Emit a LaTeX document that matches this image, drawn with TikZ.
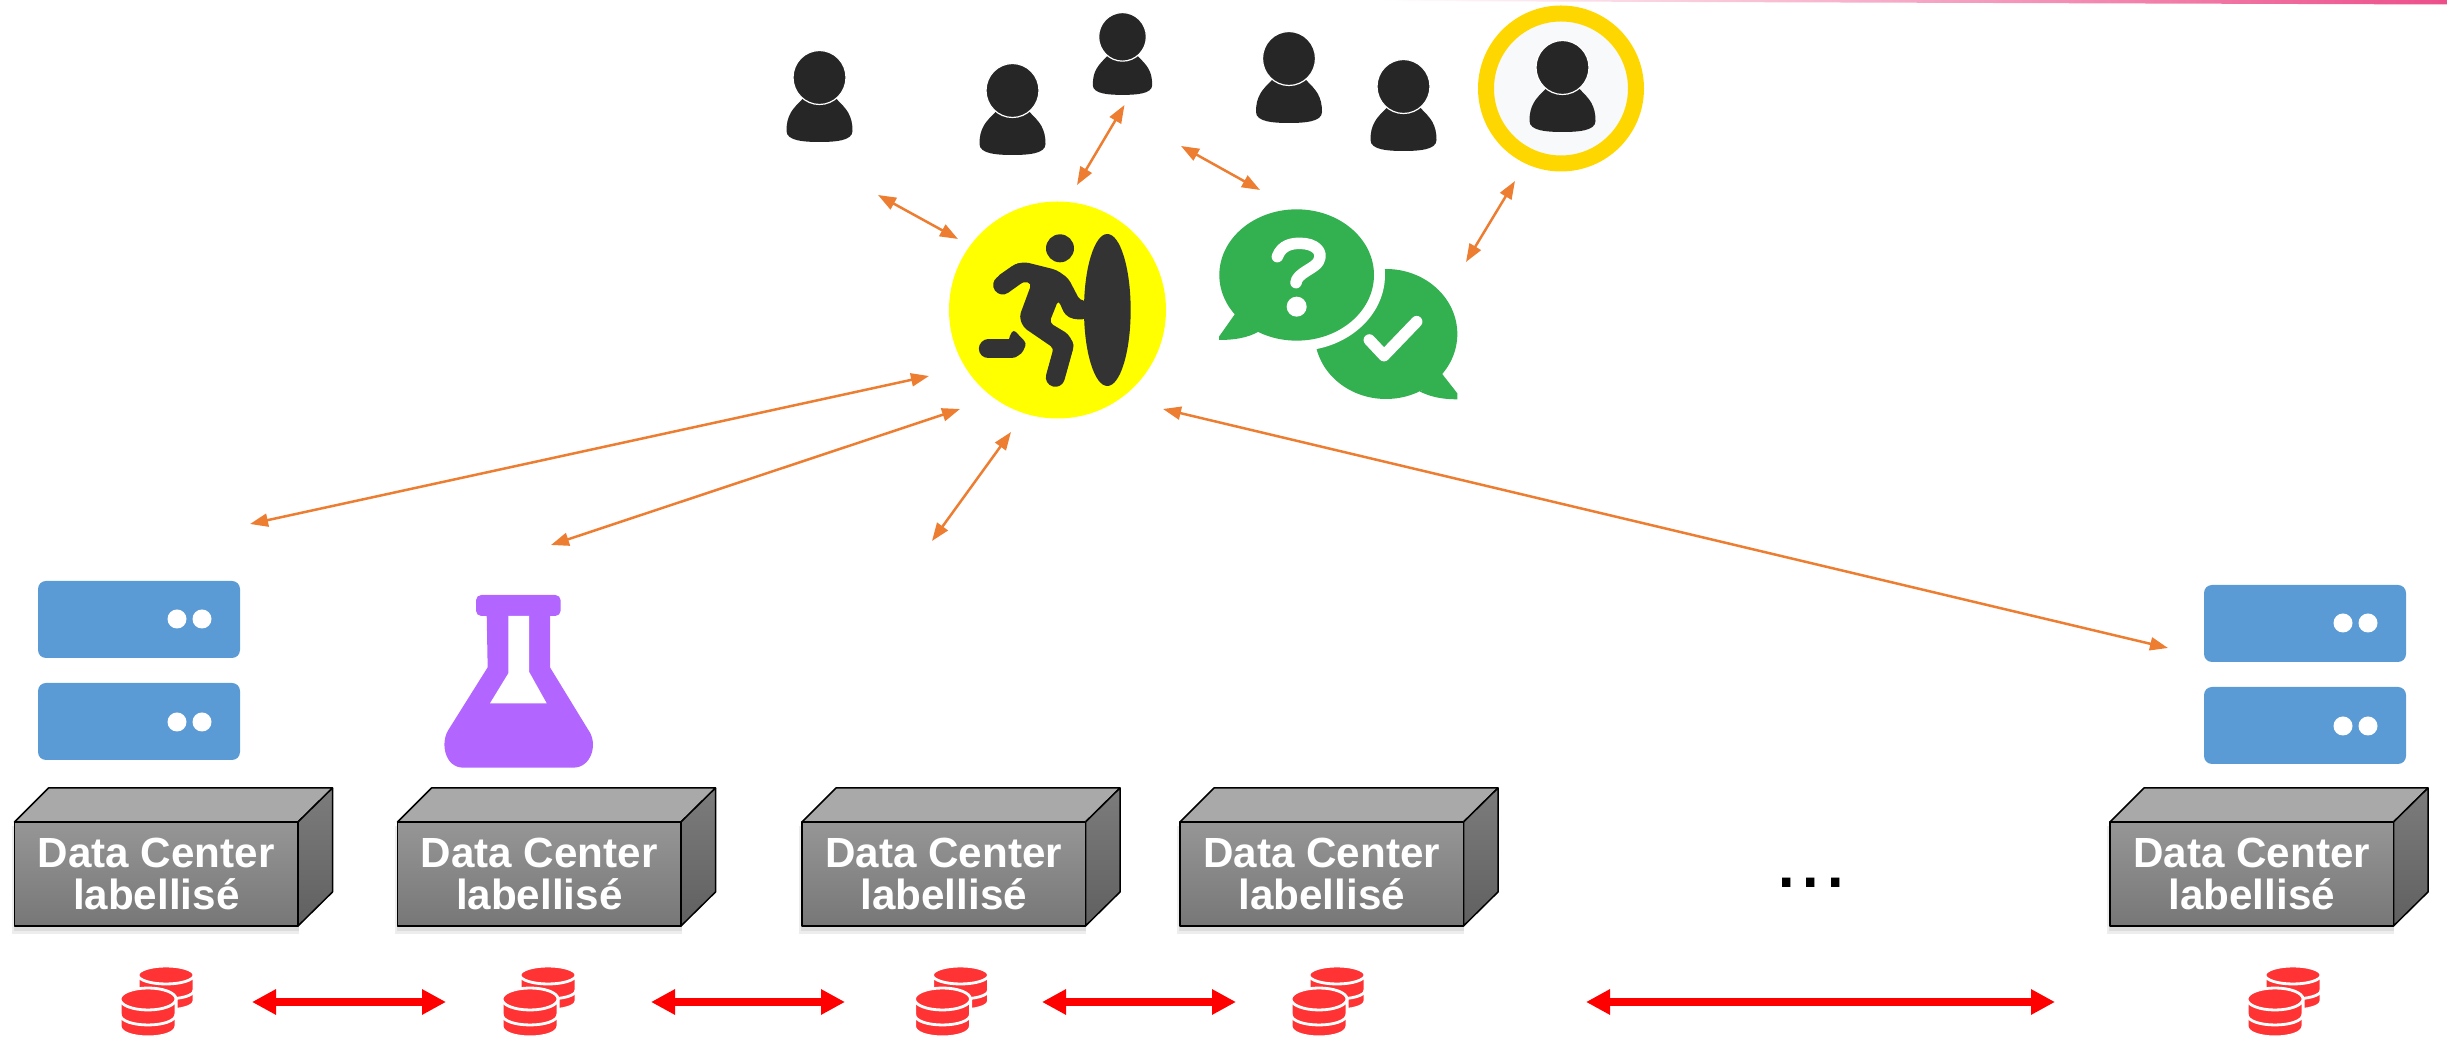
\documentclass[tikz,border=0pt]{standalone}
\usepackage{fontspec}
\setmainfont{Liberation Sans}
\usepackage{tikz}
\usetikzlibrary{calc}
\usetikzlibrary{arrows.meta,positioning}

\definecolor{arroworange}{HTML}{ED7D31}
\definecolor{serverblue}{HTML}{5B9BD5}
\definecolor{flaskpurple}{HTML}{B266FF}
\definecolor{chatgreen}{HTML}{33B050}
\definecolor{dbred}{HTML}{FF3333}
\definecolor{ringgold}{HTML}{FFD700}
\definecolor{ringinner}{HTML}{F8F9FB}
\definecolor{iconblack}{HTML}{262626}
\definecolor{runnergray}{HTML}{333333}
\definecolor{runneryellow}{HTML}{FFFF00}
\definecolor{barpink}{HTML}{EC4F8A}
\definecolor{puregreytop}{HTML}{A9A9A9}
\definecolor{puregreyfronta}{HTML}{969696}
\definecolor{puregreyfrontb}{HTML}{777777}
\definecolor{puregreysidea}{HTML}{7C7C7C}
\definecolor{puregreysideb}{HTML}{606060}
\definecolor{linkred}{HTML}{FF0000}

\tikzset{
	orangearrow/.style={draw=arroworange, line width=0.25mm, {Triangle[length=1.8mm,width=1.3mm,fill=arroworange]}-{Triangle[length=1.8mm,width=1.3mm,fill=arroworange]}},
	redarrow/.style={draw=linkred, line width=0.75mm, {Triangle[length=2.4mm,width=2.4mm,fill=linkred]}-{Triangle[length=2.4mm,width=2.4mm,fill=linkred]}},
	dclabel/.style={text=white, align=center, inner sep=0pt, font=\fontsize{12}{12.2}\selectfont\bfseries},
	dcedge/.style={draw=black, line width=0.15mm, line join=round},
}

% user icon: centre x, top y, size
\newcommand{\usericon}[3]{
	\begin{scope}[shift={(#1,#2)}, scale=#3]
		\fill[iconblack] (-17,48) .. controls (-27,58) and (-33,64) .. (-33,80) .. controls (-33,90) and (-15,91) .. (0,91) .. controls (15,91) and (33,90) .. (33,80) .. controls (33,64) and (27,58) .. (17,48) -- cycle;
		\filldraw[draw=white, fill=iconblack, line width=0.12mm] (0,26.5) ellipse (26.5 and 27);
	\end{scope}
}
% one stack of discs: centre x, top y, bottom y, disc height
\newcommand{\dbstack}[4]{
	\filldraw[draw=white, fill=dbred, line width=0.3mm] ({#1-28},{#2+#4}) -- ({#1-28},{#3-#4}) .. controls ({#1-28},{#3+#4/3}) and ({#1+28},{#3+#4/3}) .. ({#1+28},{#3-#4}) -- ({#1+28},{#2+#4}) -- cycle;
	\draw[white, line width=0.28mm] ({#1-28},{#2+#4+15}) .. controls ({#1-28},{#2+#4+15+#4*1.33}) and ({#1+28},{#2+#4+15+#4*1.33}) .. ({#1+28},{#2+#4+15});
	\filldraw[draw=white, fill=dbred, line width=0.28mm] (#1,{#2+#4}) ellipse (28 and #4);
}
\newcommand{\dbicon}[1]{
	\dbstack{#1+46}{966}{1010}{9}
	\dbstack{#1+28}{988}{1037}{11}
}
% labelled box: node name, left x
\newcommand{\datacenter}[2]{
	\fill[black, opacity=0.07] ({#2-3},826) rectangle ({#2+284},934);
	\fill[black, opacity=0.07] ({#2-1},826) rectangle ({#2+284},931);
	\draw[dcedge, fill=puregreytop] (#2,822) -- ({#2+34},788) -- ({#2+318},788) -- ({#2+283.5},822) -- cycle;
	\draw[dcedge, top color=puregreysidea, bottom color=puregreysideb] ({#2+283.5},822) -- ({#2+318},788) -- ({#2+318},892) -- ({#2+283.5},926) -- cycle;
	\draw[dcedge, top color=puregreyfronta, bottom color=puregreyfrontb] (#2,822) rectangle ({#2+283.5},926);
	\node[dclabel] (#1) at ({#2+141.75},874) {Data Center\\labellisé};
}
% two stacked servers: left x, top y
\newcommand{\servers}[2]{
	\fill[serverblue, rounded corners=0.8mm] (#1,#2) rectangle ({#1+202},{#2+77});
	\fill[serverblue, rounded corners=0.8mm] (#1,{#2+102}) rectangle ({#1+202},{#2+179});
	\fill[white] ({#1+139},{#2+38}) circle (9.5);
	\fill[white] ({#1+164},{#2+38}) circle (9.5);
	\fill[white] ({#1+139},{#2+141}) circle (9.5);
	\fill[white] ({#1+164},{#2+141}) circle (9.5);
}

\begin{document}
\begin{tikzpicture}[x=0.1mm, y=-0.1mm]
\useasboundingbox (0,0) rectangle (2447,1039);

%top bar
\shade[left color=white, middle color=barpink!85, right color=barpink] (1380,0) -- (2447,0) -- (2447,4.5) -- (1380,1) -- cycle;

%users
\usericon{819.5}{51}{1}
\usericon{1012.5}{64}{1}
\usericon{1122.5}{13}{0.9}
\usericon{1289}{32}{1}
\usericon{1403.5}{60}{1}
\filldraw[draw=ringgold, fill=ringinner, line width=1.6mm] (1561,88.5) circle (75);
\usericon{1562.5}{41}{1}

%runner
\fill[runneryellow] (1057.5,310) circle (108.5);
\begin{scope}[shift={(940,190)}, scale=1/3]
	\fill[runnergray] (360,175) circle (42);
	\fill[runnergray] (502,360) ellipse (70 and 228);
	\fill[runnergray, rounded corners=1.2pt] (168,262) -- (225,222) -- (255,216) -- (350,240) -- (385,265) -- (420,332) -- (440,332) -- (440,388) -- (400,388) -- (375,375) -- (355,330) -- (328,398) -- (385,432) -- (402,465) -- (375,560) -- (318,560) -- (342,475) -- (250,412) -- (238,380) -- (275,280) -- (250,274) -- (195,312) -- cycle;
	\draw[runnergray, line width=1.9mm, line cap=round] (188,285) -- (240,248);
	\draw[runnergray, line width=1.9mm, line cap=round] (346,562) -- (372,468);
	\draw[runnergray, line width=1.9mm, line cap=round] (145,477) -- (215,477);
	\fill[runnergray, rounded corners=1pt] (205,448) -- (220,418) -- (260,460) -- (245,492) -- (215,505) -- cycle;
\end{scope}

%question and answer bubbles
\begin{scope}[shift={(1200,190)}, scale=1/3]
	\fill[chatgreen] (558,432) ellipse (214 and 195);
	\fill[chatgreen] (725,550) -- (772,610) -- (772,628) .. controls (730,628) and (695,622) .. (660,605) -- cycle;
	\fill[white] (290,255) ellipse (265 and 228);
	\fill[chatgreen] (290,255) ellipse (232 and 197);
	\fill[chatgreen] (105,372) -- (57,440) -- (57,450) .. controls (100,450) and (140,445) .. (178,424) -- cycle;
	\draw[white, line width=1.15mm, line cap=round, line join=round] (232,200) .. controls (245,165) and (275,160) .. (300,160) .. controls (345,160) and (372,185) .. (355,215) .. controls (345,235) and (290,250) .. (288,278);
	\fill[white] (290,350) circle (30);
	\draw[white, line width=1.15mm, line cap=round, line join=round] (508,450) -- (552,497) -- (650,395);
\end{scope}

%flask
\begin{scope}[shift={(420,580)}, scale=1/3]
	\fill[flaskpurple, rounded corners=1.5pt] (168,45) rectangle (422,108);
	\fill[flaskpurple] (200,100) -- (203,262) -- (85,450) .. controls (60,490) and (75,563) .. (130,563) -- (460,563) .. controls (515,563) and (535,490) .. (505,450) -- (390,262) -- (390,100) -- cycle;
	\fill[white] (265,108) -- (327,108) -- (327,275) -- (380,370) -- (210,370) -- (265,280) -- cycle;
\end{scope}

%servers
\servers{38}{581}
\servers{2204}{585}

%labelled boxes
\datacenter{dcone}{14.5}
\datacenter{dctwo}{397.5}
\datacenter{dcthree}{802}
\datacenter{dcfour}{1180}
\datacenter{dcfive}{2110}
\node[font=\fontsize{25}{25}\selectfont, inner sep=0pt, anchor=base] (dcdots) at (1811,888) {...};

%discs
\dbicon{120}
\dbicon{502}
\dbicon{914.5}
\dbicon{1291}
\dbicon{2247}

%arrow ends
\coordinate (userone) at (878,195);
\coordinate (runnerone) at (958,239);
\coordinate (usertwo) at (1124.5,105);
\coordinate (runnertwo) at (1077,185);
\coordinate (userthree) at (1181,146);
\coordinate (chatone) at (1260,190);
\coordinate (userfour) at (1515,181);
\coordinate (chattwo) at (1466,262);
\coordinate (runnerthree) at (929,376);
\coordinate (serverone) at (250,524);
\coordinate (runnerfour) at (960,409);
\coordinate (flaskone) at (551,545);
\coordinate (runnerfive) at (1011,432);
\coordinate (freeone) at (932,541);
\coordinate (runnersix) at (1163,409);
\coordinate (servertwo) at (2168,648);

\draw[orangearrow] (userone) -- (runnerone);
\draw[orangearrow] (usertwo) -- (runnertwo);
\draw[orangearrow] (userthree) -- (chatone);
\draw[orangearrow] (userfour) -- (chattwo);
\draw[orangearrow] (runnerthree) -- (serverone);
\draw[orangearrow] (runnerfour) -- (flaskone);
\draw[orangearrow] (runnerfive) -- (freeone);
\draw[orangearrow] (runnersix) -- (servertwo);

%links between discs
\coordinate (linkonea) at (252,1002);
\coordinate (linkoneb) at (446,1002);
\coordinate (linktwoa) at (651,1002);
\coordinate (linktwob) at (845,1002);
\coordinate (linkthreea) at (1042,1002);
\coordinate (linkthreeb) at (1236,1002);
\coordinate (linkfoura) at (1586,1002);
\coordinate (linkfourb) at (2055,1002);

\draw[redarrow] (linkonea) -- (linkoneb);
\draw[redarrow] (linktwoa) -- (linktwob);
\draw[redarrow] (linkthreea) -- (linkthreeb);
\draw[redarrow] (linkfoura) -- (linkfourb);

\end{tikzpicture}
\end{document}
